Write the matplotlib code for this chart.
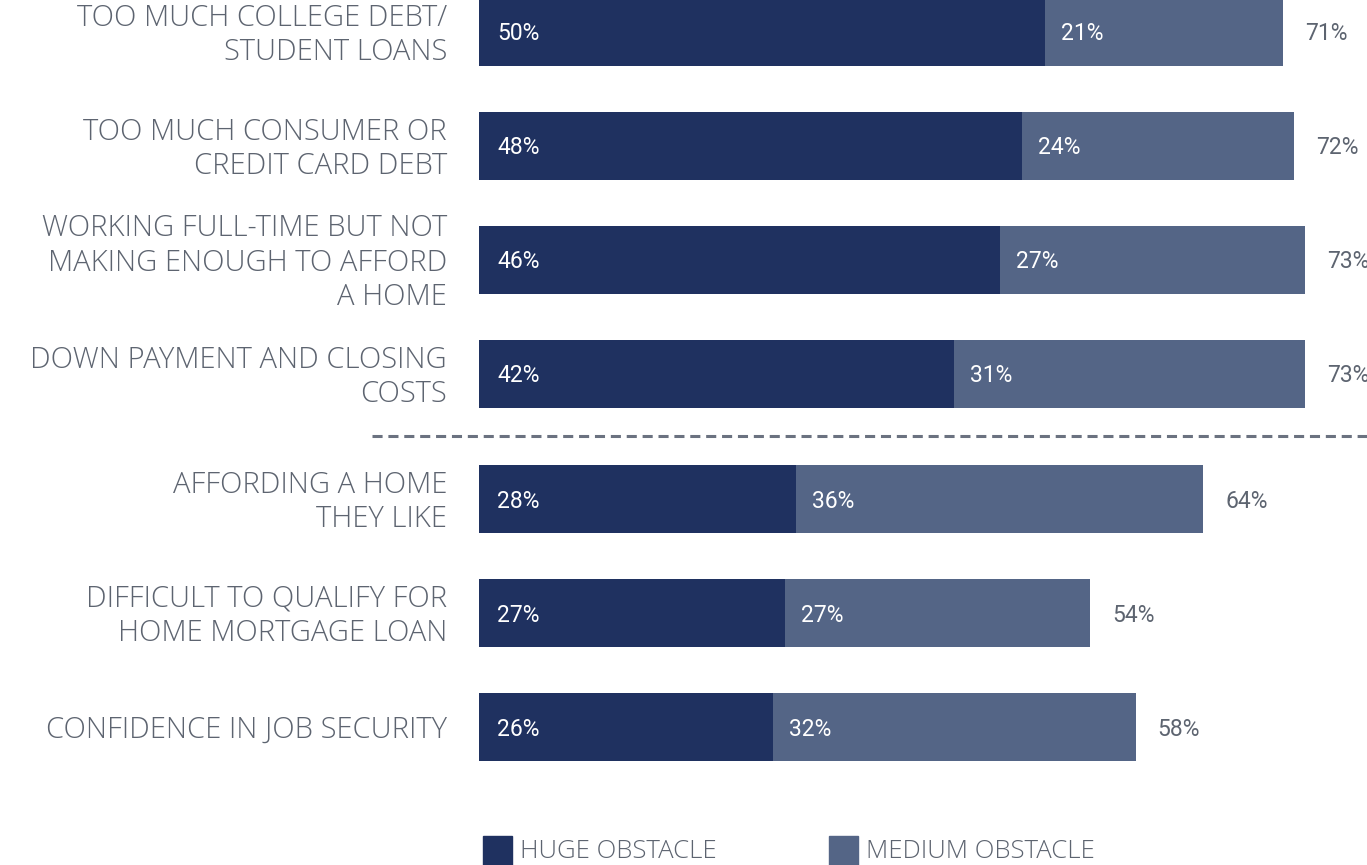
import matplotlib
matplotlib.use("Agg")
import matplotlib.pyplot as plt
from matplotlib.patches import Rectangle

# survey results, % of respondents
categories = [
    "TOO MUCH COLLEGE DEBT/\nSTUDENT LOANS",
    "TOO MUCH CONSUMER OR\nCREDIT CARD DEBT",
    "WORKING FULL-TIME BUT NOT\nMAKING ENOUGH TO AFFORD\nA HOME",
    "DOWN PAYMENT AND CLOSING\nCOSTS",
    "AFFORDING A HOME\nTHEY LIKE",
    "DIFFICULT TO QUALIFY FOR\nHOME MORTGAGE LOAN",
    "CONFIDENCE IN JOB SECURITY",
]
huge = [50, 48, 46, 42, 28, 27, 26]
medium = [21, 24, 27, 31, 36, 27, 32]
series_names = ["HUGE OBSTACLE", "MEDIUM OBSTACLE"]

DARK = "#1f3160"
MID = "#546586"
TEXT = "#5d6470"
W, H = 1367, 865
PX = 11.32  # pixels per percentage point
LEFT = 479

fig = plt.figure(figsize=(W / 100, H / 100), dpi=100)
ax = fig.add_axes([LEFT / W, 0, 1 - LEFT / W, 1])
ax.set_xlim(0, (W - LEFT) / PX)
ax.set_ylim(H, 0)
ax.axis("off")

# rows are spaced evenly, with an extra gap below the fourth one
ys = [32 + 114 * i + (11 if i >= 4 else 0) for i in range(len(categories))]

ax.barh(ys, huge, height=68, color=DARK)
ax.barh(ys, medium, left=huge, height=68, color=MID)

for y, cat, h, m in zip(ys, categories, huge, medium):
    ax.text(-32 / PX, y + 3, cat, ha="right", va="center", multialignment="right",
            fontsize=21, family="Open Sans", fontweight="light", color=TEXT,
            linespacing=1.22, clip_on=False)
    ax.text(18 / PX, y + 2, f"{h}%", ha="left", va="center", fontsize=16.5,
            family="Roboto", color="white")
    ax.text(h + 16 / PX, y + 2, f"{m}%", ha="left", va="center", fontsize=16.5,
            family="Roboto", color="white")
    ax.text(h + m + 22 / PX, y + 2, f"{h + m}%", ha="left", va="center",
            fontsize=16.5, family="Roboto", color=TEXT, clip_on=False)

# divider between the two groups
ax.plot([-(LEFT - 372) / PX, (W - LEFT) / PX], [436, 436], color="#6b7280",
        lw=2.2, dashes=(3.3, 1.9), clip_on=False)

# legend
for x0, col, name in zip([4, 350], [DARK, MID], series_names):
    ax.add_patch(Rectangle((x0 / PX, 836), 29 / PX, 30, color=col, clip_on=False))
    ax.text((x0 + 37) / PX, 851, name, ha="left", va="center", fontsize=18.5,
            family="Open Sans", fontweight="light", color=TEXT)

fig.savefig("out.png", dpi=100)
